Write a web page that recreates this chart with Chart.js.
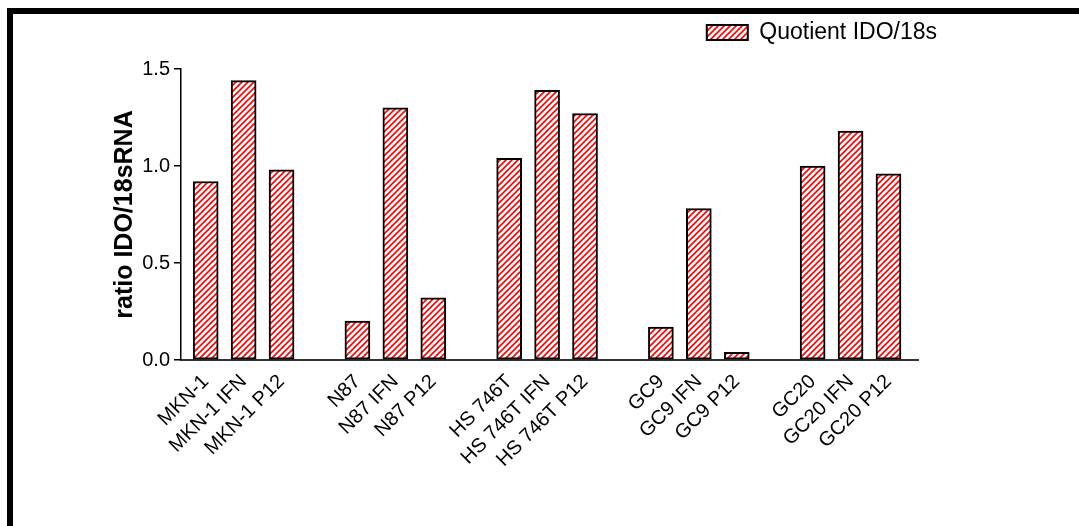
<!DOCTYPE html>
<html>
<head>
<meta charset="utf-8">
<script src="https://cdn.jsdelivr.net/npm/chart.js@4.4.1/dist/chart.umd.min.js"></script>
<style>
  html, body { margin: 0; padding: 0; background: #fff; overflow: hidden; }
  #frame { position: absolute; left: 7px; top: 8px; width: 1200px; height: 700px; border-top: 6px solid #000; border-left: 6px solid #000; }
  canvas { position: absolute; left: 0; top: 0; }
</style>
</head>
<body>
<div id="frame"></div>
<canvas id="chart" width="1079" height="526"></canvas>
<script>
// cell lines, empty strings are the spacer columns between groups
const cellLines = [
  "MKN-1", "MKN-1 IFN", "MKN-1 P12", "",
  "N87", "N87 IFN", "N87 P12", "",
  "HS 746T", "HS 746T IFN", "HS 746T P12", "",
  "GC9", "GC9 IFN", "GC9 P12", "",
  "GC20", "GC20 IFN", "GC20 P12"
];
const ratios = [
  0.92, 1.44, 0.98, null,
  0.20, 1.30, 0.32, null,
  1.04, 1.39, 1.27, null,
  0.17, 0.78, 0.04, null,
  1.00, 1.18, 0.96
];
const yTicks = [0, 0.5, 1.0, 1.5];
const seriesName = "Quotient IDO/18s";
const yTitle = "ratio IDO/18sRNA";

const FONT = "'Liberation Sans', Arial, sans-serif";

// red diagonal hatching
function hatch() {
  const n = 6;
  const c = document.createElement("canvas");
  c.width = n;
  c.height = n;
  const g = c.getContext("2d");
  g.fillStyle = "#fff";
  g.fillRect(0, 0, n, n);
  g.strokeStyle = "#ff0000";
  g.lineWidth = 1.6;
  g.beginPath();
  g.moveTo(-1, n + 1); g.lineTo(n + 1, -1);
  g.moveTo(-1, 1); g.lineTo(1, -1);
  g.moveTo(n - 1, n + 1); g.lineTo(n + 1, n - 1);
  g.stroke();
  return g.createPattern(c, "repeat");
}

new Chart(document.getElementById("chart"), {
  type: "bar",
  data: {
    datasets: [
      {
        label: seriesName,
        data: ratios.map((v, i) => ({ x: i, y: v })),
        backgroundColor: hatch(),
        borderColor: "#000",
        borderWidth: 2,
        borderSkipped: false,
        barThickness: 25,
      },
    ],
  },
  options: {
    responsive: false,
    animation: false,
    devicePixelRatio: 1,
    layout: { padding: { top: 11, left: 106, right: 132, bottom: 46 } },
    plugins: {
      legend: {
        position: "top",
        align: "end",
        labels: {
          boxWidth: 41,
          boxHeight: 15,
          padding: 10,
          color: "#000",
          font: { family: FONT, size: 23 },
        },
      },
      // empty title used as a gap between legend and plot
      title: {
        display: true,
        text: "",
        weight: 100,
        padding: { top: 5, bottom: 0 },
        font: { size: 10, lineHeight: 1 },
      },
      tooltip: { enabled: false },
    },
    scales: {
      x: {
        type: "linear",
        min: -0.651,
        max: 18.778,
        offset: false,
        grid: { display: false },
        border: { display: true, color: "#333", width: 2 },
        afterBuildTicks: s => {
          s.ticks = cellLines.map((_, i) => ({ value: i }));
        },
        afterFit: s => {
          s.height = 120;
        },
        ticks: {
          autoSkip: false,
          maxRotation: 45,
          minRotation: 45,
          padding: 2,
          color: "#000",
          font: { family: FONT, size: 20 },
          callback: v => cellLines[v],
        },
      },
      y: {
        min: 0,
        max: 1.5,
        afterBuildTicks: s => {
          s.ticks = yTicks.map(v => ({ value: v }));
        },
        afterFit: s => {
          s.width = 75;
        },
        grid: { drawOnChartArea: false, drawTicks: true, tickLength: 7, color: "#000", lineWidth: 1.5 },
        border: { display: true, color: "#000", width: 1.5 },
        ticks: {
          padding: 4,
          color: "#000",
          font: { family: FONT, size: 20 },
          callback: v => v.toFixed(1),
        },
        title: {
          display: true,
          text: yTitle,
          color: "#000",
          font: { family: FONT, size: 25, weight: "bold" },
        },
      },
      // right-hand spacer so the legend can sit further right than the x axis
      y2: {
        position: "right",
        display: true,
        grid: { display: false },
        border: { display: false },
        ticks: { display: false },
        afterFit: s => {
          s.width = 29;
        },
      },
    },
  },
});
</script>
</body>
</html>
